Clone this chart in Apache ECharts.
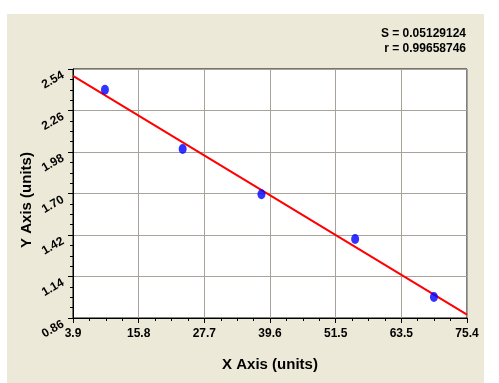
<!DOCTYPE html>
<html><head><meta charset="utf-8">
<script src="https://cdn.jsdelivr.net/npm/echarts@6/dist/echarts.min.js"></script>
<style>html,body{margin:0;padding:0;background:#fff}#c{width:499px;height:383px}</style>
</head><body><div id="c"></div>
<script>
// Data
const xValues = [9.7, 23.8, 38.1, 55.1, 69.4];
const yValues = [2.40, 2.00, 1.695, 1.393, 1.002];
const xTickLabels = ['3.9', '15.8', '27.7', '39.6', '51.5', '63.5', '75.4'];
const yTickLabels = ['0.86', '1.14', '1.42', '1.70', '1.98', '2.26', '2.54'];
const statLines = ['S = 0.05129124', 'r = 0.99658746'];
const xName = 'X Axis (units)';
const yName = 'Y Axis (units)';

const xMin = 3.9, xMax = 75.4, yMin = 0.86, yMax = 2.54;
const xInt = (xMax - xMin) / 6, yInt = (yMax - yMin) / 6;

// least squares fit line
const n = xValues.length;
const mx = xValues.reduce((a, b) => a + b, 0) / n;
const my = yValues.reduce((a, b) => a + b, 0) / n;
let sxy = 0, sxx = 0;
for (let i = 0; i < n; i++) { sxy += (xValues[i] - mx) * (yValues[i] - my); sxx += (xValues[i] - mx) ** 2; }
const slope = sxy / sxx, icpt = my - slope * mx;
const fitLine = [[xMin, icpt + slope * xMin], [xMax, icpt + slope * xMax]];

const chart = echarts.init(document.getElementById('c'), null, {renderer: 'canvas'});
const font = 'Arial, "Liberation Sans", sans-serif';
const gridC = '#a7a39b';
chart.setOption({
  animation: false,
  backgroundColor: '#ffffff',
  graphic: [
    {type: 'rect', z: -10, silent: true, shape: {x: 7, y: 14, width: 477, height: 369}, style: {fill: '#ece9d8'}},
    {type: 'text', right: 33, top: 28, style: {text: statLines[0], font: 'bold 12px ' + font, fill: '#000', textAlign: 'right'}},
    {type: 'text', right: 33, top: 43, style: {text: statLines[1], font: 'bold 12px ' + font, fill: '#000', textAlign: 'right'}},
    {type: 'text', x: 270, y: 365, style: {text: xName, font: 'bold 15px ' + font, fill: '#000', textAlign: 'center', textVerticalAlign: 'middle'}},
    {type: 'text', x: 27, y: 200, rotation: Math.PI / 2, style: {text: yName, font: 'bold 15px ' + font, fill: '#000', textAlign: 'center', textVerticalAlign: 'middle'}}
  ],
  grid: {left: 73, top: 69, width: 394, height: 249, show: true, backgroundColor: '#fff', borderColor: '#000', borderWidth: 1},
  xAxis: {
    type: 'value', min: xMin, max: xMax, interval: xInt,
    axisLine: {show: true, lineStyle: {color: '#000', width: 1}},
    axisTick: {show: true, length: 5, lineStyle: {color: '#000'}},
    minorTick: {show: true, splitNumber: 4, length: 3, lineStyle: {color: '#000'}},
    splitLine: {show: true, lineStyle: {color: gridC, width: 1}},
    axisLabel: {margin: 10, color: '#000', fontWeight: 'bold', fontSize: 12, fontFamily: font,
      formatter: v => xTickLabels[Math.round((v - xMin) / xInt)] || ''}
  },
  yAxis: {
    type: 'value', min: yMin, max: yMax, interval: yInt,
    axisLine: {show: true, lineStyle: {color: '#000', width: 1}},
    axisTick: {show: true, length: 5, lineStyle: {color: '#000'}},
    minorTick: {show: true, splitNumber: 4, length: 3, lineStyle: {color: '#000'}},
    splitLine: {show: true, lineStyle: {color: gridC, width: 1}},
    axisLabel: {margin: 13, rotate: 30, verticalAlign: 'top', color: '#000', fontWeight: 'bold', fontSize: 12, fontFamily: font,
      formatter: v => yTickLabels[Math.round((v - yMin) / yInt)] || ''}
  },
  series: [
    {type: 'line', data: fitLine, symbol: 'none', lineStyle: {color: '#ff0000', width: 2}, z: 2},
    {type: 'scatter', data: xValues.map((x, i) => [x, yValues[i]]), symbol: 'circle', symbolSize: [8, 10],
      itemStyle: {color: '#0000ff'}, z: 3}
  ]
});
</script></body></html>
